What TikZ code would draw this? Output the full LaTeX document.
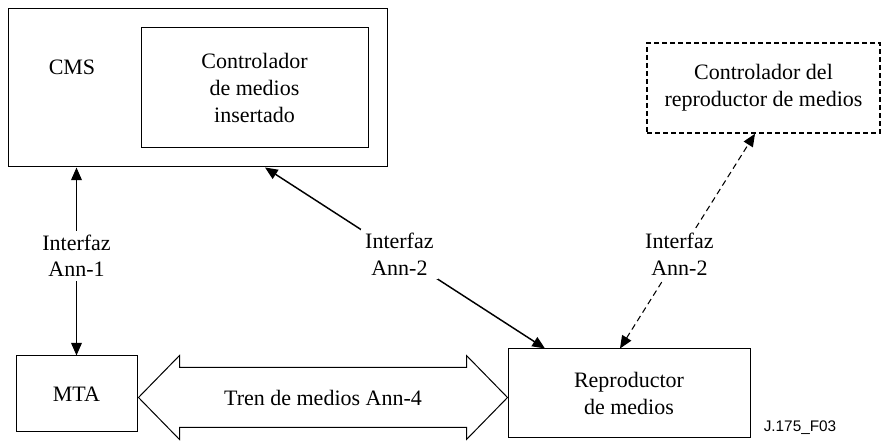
\documentclass[tikz,border=0pt]{standalone}
\usepackage{fontspec}
\setmainfont{Liberation Serif}
\newfontfamily\figfont{Liberation Sans}
\usetikzlibrary{arrows.meta,calc}
\tikzset{
	box/.style={draw, line width=0.75pt, inner sep=0pt, align=center},
	dashbox/.style={box, line width=1.1pt, dash pattern=on 3.75pt off 2.25pt},
	arr/.style={line width=1.1pt, {Triangle[length=9.5pt,width=8pt]}-{Triangle[length=9.5pt,width=8pt]}},
	dasharr/.style={arr, line width=0.8pt, dash pattern=on 4.5pt off 3pt},
	lbl/.style={fill=white, align=center, inner sep=3pt}
}
\begin{document}
\begin{tikzpicture}[x=0.75pt, y=-0.75pt, font=\fontsize{16.5}{20}\selectfont]
	\useasboundingbox (0,0) rectangle (883,441);
	\node (cms) [box, minimum width=284.25pt, minimum height=118.5pt] at (197.5,88) {};
	\node (cmstext) at (72,67) {CMS};
	\node (insertado) [box, minimum width=170.25pt, minimum height=90pt] at (254.5,88) {Controlador\\de medios\\insertado};
	\node (ctrl) [dashbox, minimum width=174.75pt, minimum height=67.5pt] at (763.5,88) {Controlador del\\reproductor de medios};
	\node (mta) [box, minimum width=90.75pt, minimum height=57pt] at (76.5,394) {MTA};
	\node (rep) [box, minimum width=181.5pt, minimum height=66.75pt] at (629,393.5) {Reproductor\\de medios};
	\node (code) [font={\figfont\fontsize{11.5}{14}\selectfont}] at (800,428) {J.175\_F03};
	\draw [arr] ($(cms.south west)+(69,0)$) -- node [lbl, pos=0.47] {Interfaz\\Ann-1} ($(mta.north west)+(61,0)$);
	\draw [arr] ($(cms.south)+(67.5,0)$) -- node [lbl, pos=0.48] {Interfaz\\Ann-2} ($(rep.north)+(-84,0)$);
	\draw [dasharr] ($(rep.north)+(-9,0)$) -- node [lbl, pos=0.44] {Interfaz\\Ann-2} ($(ctrl.south)+(-8.5,0)$);
	\coordinate (tl) at ($(mta.east)+(1,3.5)$);
	\coordinate (tr) at ($(rep.west)+(0,4)$);
	\draw [line width=0.75pt] (tl) -- ++(41,-42) -- ++(0,12) -- ($(tr)+(-41,-30)$) -- ++(0,-12) -- (tr) -- ++(-41,42) -- ++(0,-12) -- ($(tl)+(41,30)$) -- ++(0,12) -- cycle;
	\node (tren) at ($(tl)!0.5!(tr)$) {Tren de medios Ann-4};
\end{tikzpicture}
\end{document}
